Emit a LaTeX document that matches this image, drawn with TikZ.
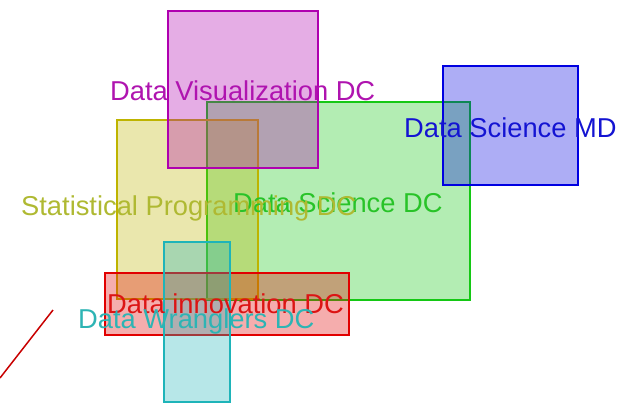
\documentclass[tikz,border=0pt]{standalone}
\usepackage{fontspec}
\setmainfont{Liberation Sans}
\definecolor{vizc}{RGB}{175,0,175}
\definecolor{mdc}{RGB}{0,0,225}
\definecolor{scic}{RGB}{20,200,20}
\definecolor{statc}{RGB}{190,180,0}
\definecolor{innc}{RGB}{225,0,0}
\definecolor{wrac}{RGB}{30,180,185}
\begin{document}
\begin{tikzpicture}[x=1pt,y=-1pt,
        box/.style={line width=2.8pt, fill opacity=0.32},
        lbl/.style={anchor=base west, inner sep=0pt, font=\fontsize{27.3}{30}\selectfont}]
        \useasboundingbox (0,0) rectangle (626,412);
        % the boxes
        \draw[box, draw=scic, fill=scic] (207,102) rectangle (470,300);
        \draw[box, draw=statc, fill=statc] (117,120) rectangle (258,299);
        \draw[box, draw=innc, fill=innc] (105,273) rectangle (349,335);
        \draw[box, draw=wrac, fill=wrac] (164,242) rectangle (230,402);
        \draw[box, draw=vizc, fill=vizc] (168,11) rectangle (318,168);
        \draw[box, draw=mdc, fill=mdc] (443,66) rectangle (578,185);
        % the labels
        \node[lbl, text={rgb,255:red,175;green,20;blue,175}] (viz) at (110,100) {Data Visualization DC};
        \node[lbl, text={rgb,255:red,20;green,20;blue,210}] (md) at (404,137) {Data Science MD};
        \node[lbl, text={rgb,255:red,40;green,195;blue,40}] (sci) at (233,212) {Data Science DC};
        \node[lbl, text={rgb,255:red,175;green,185;blue,50}] (stat) at (21,215) {Statistical Programming DC};
        \node[lbl, text={rgb,255:red,220;green,20;blue,20}] (inn) at (107,313) {Data innovation DC};
        \node[lbl, text={rgb,255:red,45;green,180;blue,180}] (wra) at (78,328) {Data Wranglers DC};
        % the stray line
        \draw[line width=1.5pt, color={rgb,255:red,200;green,0;blue,0}] (0,378) -- (53,310);
\end{tikzpicture}
\end{document}
